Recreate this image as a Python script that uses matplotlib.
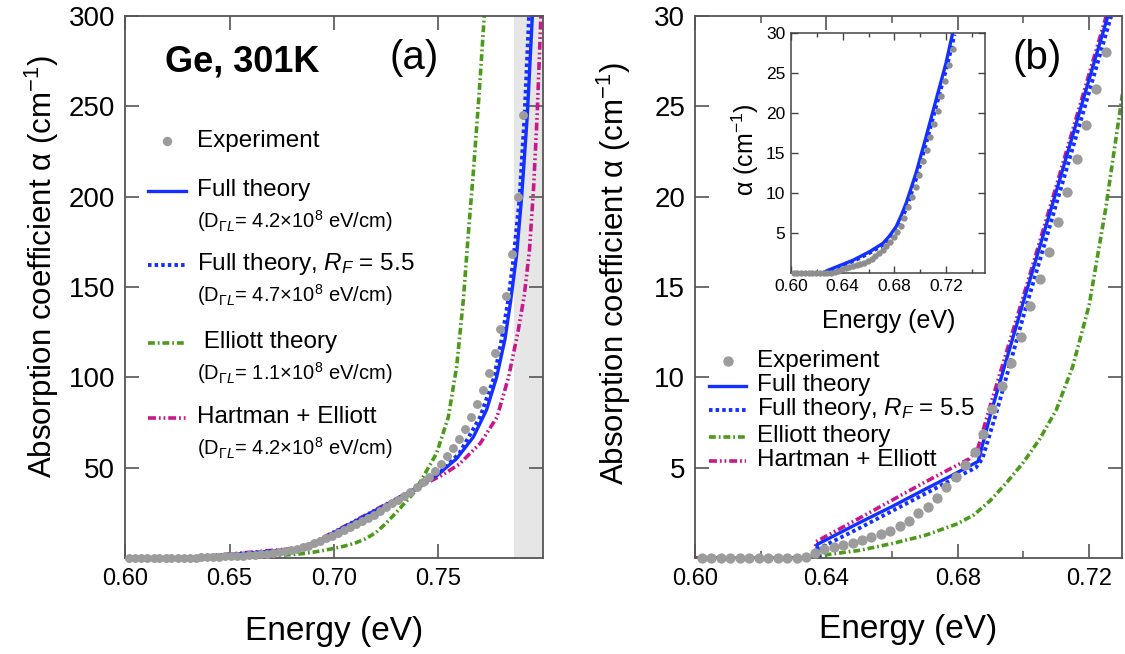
import numpy as np
import matplotlib
matplotlib.use('Agg')
import matplotlib.pyplot as plt
from matplotlib.lines import Line2D
from matplotlib.ticker import FixedLocator

plt.rcParams['font.family'] = ['Liberation Sans', 'DejaVu Sans']
plt.rcParams['mathtext.fontset'] = 'custom'
plt.rcParams['mathtext.rm'] = 'Liberation Sans'
plt.rcParams['mathtext.it'] = 'Liberation Sans:italic'
plt.rcParams['mathtext.bf'] = 'Liberation Sans:bold'
plt.rcParams['mathtext.sf'] = 'Liberation Sans'

# ---------------- data ----------------
exp_energy = [0.6020, 0.6049, 0.6078, 0.6106, 0.6137, 0.6164, 0.6195, 0.6222, 0.6252, 0.6280,
              0.6310, 0.6338, 0.6365, 0.6393, 0.6423, 0.6451, 0.6480, 0.6509, 0.6537, 0.6566,
              0.6594, 0.6623, 0.6651, 0.6680, 0.6709, 0.6737, 0.6765, 0.6794, 0.6822, 0.6851,
              0.6877, 0.6905, 0.6935, 0.6963, 0.6991, 0.7019, 0.7049, 0.7078, 0.7105, 0.7134,
              0.7163, 0.7191, 0.7220, 0.7250, 0.7279, 0.7308, 0.7337, 0.7366, 0.7395, 0.7424,
              0.7453, 0.7482, 0.7510, 0.7539, 0.7568, 0.7597, 0.7625, 0.7654, 0.7683, 0.7711,
              0.7740, 0.7768, 0.7796, 0.7824, 0.7852, 0.7879, 0.7906]
exp_alpha = [0, 0, 0, 0, 0, 0, 0, 0, 0, 0,
             0.02, 0.08, 0.30, 0.48, 0.59, 0.72, 0.85, 1.00, 1.14, 1.31,
             1.51, 1.77, 2.07, 2.47, 2.84, 3.34, 3.91, 4.47, 5.13, 5.85,
             6.88, 8.23, 9.52, 10.81, 12.23, 13.95, 15.42, 16.96, 18.62, 20.28,
             22.08, 23.97, 25.94, 28.02, 30.2, 32.3, 34.5, 36.8, 39.3, 42.0,
             45.0, 48.3, 52.0, 56.5, 61.0, 66.0, 71.5, 78.0, 85.0, 93.0,
             102.5, 113.5, 127.0, 145.0, 168.0, 200.0, 245.0]

full_energy = [0.6370, 0.6372, 0.6500, 0.6600, 0.6700, 0.6780, 0.6862, 0.6902, 0.7000, 0.7100,
               0.7200, 0.7257, 0.7300, 0.7400, 0.7500, 0.7587, 0.7667, 0.7730, 0.7778, 0.7818,
               0.7845, 0.7874, 0.7898, 0.7925, 0.7949]
full_alpha = [0, 0.75, 1.95, 2.85, 3.8, 4.55, 5.35, 8.1, 14.2, 20.3,
              26.5, 30.0, 32.7, 39.0, 46.5, 55, 67, 82, 100, 121,
              142, 168, 200, 245, 300]

rf_energy = [0.6378, 0.6380, 0.6500, 0.6600, 0.6700, 0.6800, 0.6855, 0.6875, 0.6920, 0.7000,
             0.7100, 0.7200, 0.7267, 0.7300, 0.7400, 0.7500, 0.7600, 0.7699, 0.7766, 0.7802,
             0.7834, 0.7858, 0.7887, 0.7912, 0.7933]
rf_alpha = [0, 0.55, 1.65, 2.6, 3.55, 4.5, 5.0, 5.5, 8.2, 13.4,
            19.6, 25.8, 30.0, 32.1, 38.6, 46.5, 58, 78, 100, 121,
            143, 165, 198, 245, 300]

elliott_energy = [0.6000, 0.6355, 0.6400, 0.6500, 0.6600, 0.6700, 0.6800, 0.6850, 0.6900, 0.6950,
                  0.7000, 0.7050, 0.7100, 0.7150, 0.7200, 0.7250, 0.7300, 0.7380, 0.7427, 0.7491,
                  0.7547, 0.7587, 0.7619, 0.7643, 0.7667, 0.7695, 0.7719]
elliott_alpha = [0, 0, 0.18, 0.42, 0.8, 1.25, 1.9, 2.4, 3.2, 4.2,
                 5.3, 6.6, 8.2, 10.6, 14.0, 19.3, 25.5, 35.8, 45, 58,
                 78, 106, 143, 180, 214, 258, 300]

hartman_energy = [0.6000, 0.6366, 0.6368, 0.6500, 0.6600, 0.6700, 0.6836, 0.6860, 0.6900, 0.7000,
                  0.7100, 0.7200, 0.7252, 0.7300, 0.7400, 0.7520, 0.7600, 0.7700, 0.7780, 0.7835,
                  0.7880, 0.7910, 0.7935, 0.7955, 0.7972, 0.7990]
hartman_alpha = [0, 0, 0.9, 2.2, 3.2, 4.2, 5.5, 6.0, 8.5, 14.5,
                 20.6, 26.8, 30.0, 32.9, 39.0, 46, 52, 63.5, 78, 100,
                 125, 145, 170, 205, 245, 300]

inset_full_energy = [0.6240, 0.6287, 0.6380, 0.6480, 0.6608, 0.6710, 0.6760, 0.6813, 0.6850,
                     0.6890, 0.6967, 0.7044, 0.7121, 0.7198, 0.7250]
inset_full_alpha = [0.0, 0.35, 0.95, 1.6, 2.67, 3.7, 4.6, 5.8, 7.1,
                    8.7, 12.5, 17.0, 21.6, 26.2, 30.0]
inset_rf_energy = [0.6260, 0.6300, 0.6400, 0.6500, 0.6620, 0.6720, 0.6770, 0.6825, 0.6862,
                   0.6900, 0.6977, 0.7054, 0.7131, 0.7208, 0.7265]
inset_rf_alpha = [0.0, 0.3, 0.95, 1.6, 2.6, 3.6, 4.5, 5.6, 6.9,
                  8.4, 12.2, 16.7, 21.3, 25.9, 29.8]

shade_range = [0.786, 0.80]

a_xticks = [0.60, 0.65, 0.70, 0.75]
a_yticks = [50, 100, 150, 200, 250, 300]
b_xticks = [0.60, 0.64, 0.68, 0.72]
b_xminor = [0.62, 0.66, 0.70]
b_yticks = [5, 10, 15, 20, 25, 30]
in_xticks = [0.60, 0.64, 0.68, 0.72]
in_xminor = [0.62, 0.66, 0.70, 0.74]
in_yticks = [5, 10, 15, 20, 25, 30]

labels_a = ["Experiment", "Full theory", "Full theory, $R_F$ = 5.5", " Elliott theory", "Hartman + Elliott"]
sublabels_a = [r"(D$_{\Gamma L}$= 4.2$\times$10$^{8}$ eV/cm)",
               r"(D$_{\Gamma L}$= 4.7$\times$10$^{8}$ eV/cm)",
               r"(D$_{\Gamma L}$= 1.1$\times$10$^{8}$ eV/cm)",
               r"(D$_{\Gamma L}$= 4.2$\times$10$^{8}$ eV/cm)"]
labels_b = ["Experiment", "Full theory", "Full theory, $R_F$ = 5.5", "Elliott theory", "Hartman + Elliott"]

# ---------------- styles ----------------
BLUE = '#1430ff'
GREEN = '#4c9a1c'
MAGENTA = '#c8188c'
GRAY = '#9c9c9c'
SPINE = '#555555'
styles = {
    'full': dict(color=BLUE, lw=2.4, ls='-'),
    'rf': dict(color=BLUE, lw=2.8, ls=(0, (0.9, 0.8))),
    'ell': dict(color=GREEN, lw=2.6, ls=(0, (1.9, 0.8, 0.5, 0.8))),
    'hart': dict(color=MAGENTA, lw=2.6, ls=(0, (2.2, 0.8, 0.5, 0.8, 0.5, 0.8))),
}
curves = [('ell', elliott_energy, elliott_alpha),
          ('hart', hartman_energy, hartman_alpha),
          ('rf', rf_energy, rf_alpha),
          ('full', full_energy, full_alpha)]

W, H = 1125, 654
fig = plt.figure(figsize=(W / 100, H / 100), dpi=100)


def fx(px):
    return px / W


def fy(py):
    return 1 - py / H


def box(l, t, r, b):
    return [fx(l), fy(b), fx(r) - fx(l), fy(t) - fy(b)]


def style_axes(ax, lab_x, lab_y, length, minor_len=None):
    for s in ax.spines.values():
        s.set_color(SPINE)
        s.set_linewidth(1.3)
    ax.tick_params(which='major', direction='in', top=True, right=True, length=length,
                   width=1.2, color=SPINE)
    ax.tick_params(which='minor', direction='in', top=True, right=True,
                   length=minor_len if minor_len else length / 2, width=1.1, color=SPINE)
    ax.tick_params(axis='x', labelsize=lab_x, pad=7)
    ax.tick_params(axis='y', labelsize=lab_y, pad=7)


exp_e = np.array(exp_energy)
exp_a = np.array(exp_alpha)

# ---------------- panel (a) ----------------
axA = fig.add_axes(box(125, 16, 543, 558))
axA.axvspan(shade_range[0], shade_range[1], color='#e6e6e6', lw=0, zorder=0)
for key, e, a in curves:
    axA.plot(e, a, zorder=2, **styles[key])
axA.plot(exp_e, exp_a, 'o', color=GRAY, ms=6.4, mec='none', zorder=3, clip_on=False)
axA.set_xlim(0.60, 0.80)
axA.set_ylim(0, 300)
axA.set_xticks(a_xticks)
axA.set_xticklabels([f"{v:.2f}" for v in a_xticks])
axA.set_yticks(a_yticks)
style_axes(axA, 17, 20, 10)

fig.text(fx(165), fy(62), "Ge, 301K", fontsize=26, fontweight='bold', ha='left', va='center')
fig.text(fx(414), fy(58), "(a)", fontsize=29, ha='center', va='center')

# legend (a)
ya = [141, 190, 264, 342, 417]
for i, lab in enumerate(labels_a):
    if i == 0:
        fig.add_artist(Line2D([fx(167)], [fy(ya[0])], marker='o', color=GRAY, ms=6.8,
                              mec='none', ls='none'))
    else:
        key = ['full', 'rf', 'ell', 'hart'][i - 1]
        fig.add_artist(Line2D([fx(148), fx(186)], [fy(ya[i] + 1)] * 2, **styles[key]))
    fig.text(fx(197), fy(ya[i]), lab, fontsize=17.5, ha='left', va='center')
for i, sub in enumerate(sublabels_a):
    fig.text(fx(197), fy(ya[i + 1] + 31), sub, fontsize=14.5, ha='left', va='center')

fig.text(fx(334), fy(640), "Energy (eV)", fontsize=24, ha='center', va='baseline')
fig.text(fx(42), fy(267), "Absorption coefficient α (cm$^{-1}$)", fontsize=22.5,
         rotation=90, ha='center', va='center')

# ---------------- panel (b) ----------------
axB = fig.add_axes(box(695, 16, 1122, 558))
for key, e, a in curves:
    axB.plot(e, a, zorder=2, **styles[key])
mb = (exp_a <= 30) & (exp_e <= 0.73)
axB.plot(exp_e[mb], exp_a[mb], 'o', color=GRAY, ms=7.4, mec='none', zorder=3, clip_on=False)
axB.set_xlim(0.60, 0.73)
axB.set_ylim(0, 30)
axB.set_xticks(b_xticks)
axB.set_xticklabels([f"{v:.2f}" for v in b_xticks])
axB.xaxis.set_minor_locator(FixedLocator(b_xminor))
axB.set_yticks(b_yticks)
style_axes(axB, 17, 20, 10, 5)

fig.text(fx(1037), fy(58), "(b)", fontsize=29, ha='center', va='center')

yb = [361, 385, 409, 436, 460]
for i, lab in enumerate(labels_b):
    if i == 0:
        fig.add_artist(Line2D([fx(728)], [fy(yb[0])], marker='o', color=GRAY, ms=7.5,
                              mec='none', ls='none'))
    else:
        key = ['full', 'rf', 'ell', 'hart'][i - 1]
        fig.add_artist(Line2D([fx(709), fx(746)], [fy(yb[i] + 1)] * 2, **styles[key]))
    fig.text(fx(757), fy(yb[i]), lab, fontsize=17.5, ha='left', va='center')

fig.text(fx(908), fy(638), "Energy (eV)", fontsize=24, ha='center', va='baseline')
fig.text(fx(614), fy(274), "Absorption coefficient α (cm$^{-1}$)", fontsize=22.5,
         rotation=90, ha='center', va='center')

# ---------------- inset ----------------
axI = fig.add_axes(box(791, 33, 985, 273))
axI.plot(inset_rf_energy, inset_rf_alpha, zorder=2, color=BLUE, lw=2.6, ls=(0, (1.0, 0.9)))
axI.plot(inset_full_energy, inset_full_alpha, zorder=2, color=BLUE, lw=2.4, ls='-')
mi = exp_a <= 30
axI.plot(exp_e[mi], exp_a[mi], 'o', color='#8e8e8e', ms=4.6, mec='none', zorder=3, clip_on=False)
axI.set_xlim(0.60, 0.75)
axI.set_ylim(0, 30)
axI.set_xticks(in_xticks)
axI.set_xticklabels([f"{v:.2f}" for v in in_xticks])
axI.xaxis.set_minor_locator(FixedLocator(in_xminor))
axI.set_yticks(in_yticks)
for s in axI.spines.values():
    s.set_color('#444444')
    s.set_linewidth(1.1)
axI.tick_params(which='major', direction='in', top=True, right=True, length=5, width=1,
                color='#444444', labelsize=12.5, pad=4)
axI.tick_params(which='minor', direction='in', top=True, right=True, length=3, width=1,
                color='#444444')
fig.text(fx(889), fy(328), "Energy (eV)", fontsize=18, ha='center', va='baseline')
fig.text(fx(745), fy(150), "α (cm$^{-1}$)", fontsize=18, rotation=90, ha='center', va='center')

fig.savefig('out.png', dpi=100)
